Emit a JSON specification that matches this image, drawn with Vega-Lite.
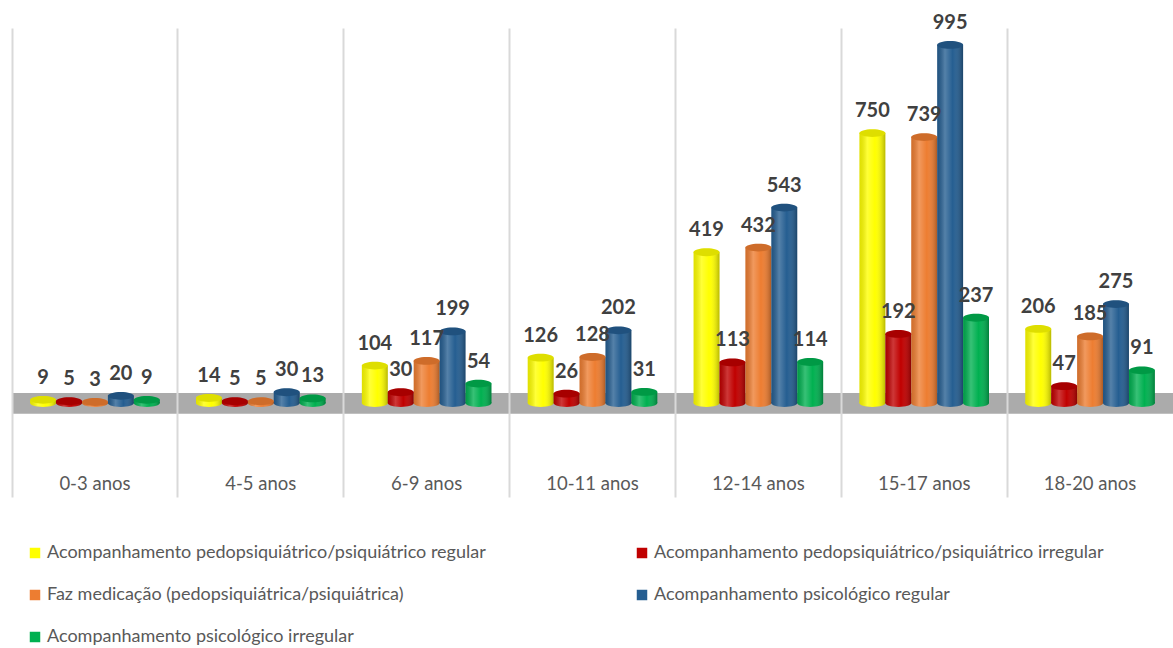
{
  "$schema": "https://vega.github.io/schema/vega-lite/v6.json",
  "width": 1161,
  "height": 469,
  "autosize": {"type": "none"},
  "padding": {"left": 12, "top": 28, "right": 0, "bottom": 151},
  "background": "white",
  "config": {"view": {"stroke": null}, "font": "Lato"},
  "data": {"values": [
    {"faixa": "0-3 anos", "serie": "Acompanhamento pedopsiquiátrico/psiquiátrico regular", "valor": 9},
    {"faixa": "0-3 anos", "serie": "Acompanhamento pedopsiquiátrico/psiquiátrico irregular", "valor": 5},
    {"faixa": "0-3 anos", "serie": "Faz medicação (pedopsiquiátrica/psiquiátrica)", "valor": 3},
    {"faixa": "0-3 anos", "serie": "Acompanhamento psicológico regular", "valor": 20},
    {"faixa": "0-3 anos", "serie": "Acompanhamento psicológico irregular", "valor": 9},
    {"faixa": "4-5 anos", "serie": "Acompanhamento pedopsiquiátrico/psiquiátrico regular", "valor": 14},
    {"faixa": "4-5 anos", "serie": "Acompanhamento pedopsiquiátrico/psiquiátrico irregular", "valor": 5},
    {"faixa": "4-5 anos", "serie": "Faz medicação (pedopsiquiátrica/psiquiátrica)", "valor": 5},
    {"faixa": "4-5 anos", "serie": "Acompanhamento psicológico regular", "valor": 30},
    {"faixa": "4-5 anos", "serie": "Acompanhamento psicológico irregular", "valor": 13},
    {"faixa": "6-9 anos", "serie": "Acompanhamento pedopsiquiátrico/psiquiátrico regular", "valor": 104},
    {"faixa": "6-9 anos", "serie": "Acompanhamento pedopsiquiátrico/psiquiátrico irregular", "valor": 30},
    {"faixa": "6-9 anos", "serie": "Faz medicação (pedopsiquiátrica/psiquiátrica)", "valor": 117},
    {"faixa": "6-9 anos", "serie": "Acompanhamento psicológico regular", "valor": 199},
    {"faixa": "6-9 anos", "serie": "Acompanhamento psicológico irregular", "valor": 54},
    {"faixa": "10-11 anos", "serie": "Acompanhamento pedopsiquiátrico/psiquiátrico regular", "valor": 126},
    {"faixa": "10-11 anos", "serie": "Acompanhamento pedopsiquiátrico/psiquiátrico irregular", "valor": 26},
    {"faixa": "10-11 anos", "serie": "Faz medicação (pedopsiquiátrica/psiquiátrica)", "valor": 128},
    {"faixa": "10-11 anos", "serie": "Acompanhamento psicológico regular", "valor": 202},
    {"faixa": "10-11 anos", "serie": "Acompanhamento psicológico irregular", "valor": 31},
    {"faixa": "12-14 anos", "serie": "Acompanhamento pedopsiquiátrico/psiquiátrico regular", "valor": 419},
    {"faixa": "12-14 anos", "serie": "Acompanhamento pedopsiquiátrico/psiquiátrico irregular", "valor": 113},
    {"faixa": "12-14 anos", "serie": "Faz medicação (pedopsiquiátrica/psiquiátrica)", "valor": 432},
    {"faixa": "12-14 anos", "serie": "Acompanhamento psicológico regular", "valor": 543},
    {"faixa": "12-14 anos", "serie": "Acompanhamento psicológico irregular", "valor": 114},
    {"faixa": "15-17 anos", "serie": "Acompanhamento pedopsiquiátrico/psiquiátrico regular", "valor": 750},
    {"faixa": "15-17 anos", "serie": "Acompanhamento pedopsiquiátrico/psiquiátrico irregular", "valor": 192},
    {"faixa": "15-17 anos", "serie": "Faz medicação (pedopsiquiátrica/psiquiátrica)", "valor": 739},
    {"faixa": "15-17 anos", "serie": "Acompanhamento psicológico regular", "valor": 995},
    {"faixa": "15-17 anos", "serie": "Acompanhamento psicológico irregular", "valor": 237},
    {"faixa": "18-20 anos", "serie": "Acompanhamento pedopsiquiátrico/psiquiátrico regular", "valor": 206},
    {"faixa": "18-20 anos", "serie": "Acompanhamento pedopsiquiátrico/psiquiátrico irregular", "valor": 47},
    {"faixa": "18-20 anos", "serie": "Faz medicação (pedopsiquiátrica/psiquiátrica)", "valor": 185},
    {"faixa": "18-20 anos", "serie": "Acompanhamento psicológico regular", "valor": 275},
    {"faixa": "18-20 anos", "serie": "Acompanhamento psicológico irregular", "valor": 91}
  ]},
  "encoding": {
    "x": {"field": "faixa", "type": "nominal", "sort": ["0-3 anos", "4-5 anos", "6-9 anos", "10-11 anos", "12-14 anos", "15-17 anos", "18-20 anos"], "scale": {"paddingInner": 0, "paddingOuter": 0},
      "axis": {"title": null, "labels": false, "ticks": false, "domain": false, "grid": true, "bandPosition": 0, "gridColor": "#D9D9D9", "gridWidth": 2, "zindex": 1}}
  },
  "layer": [
    {
      "data": {"values": [{"faixa": "0-3 anos"}, {"faixa": "4-5 anos"}, {"faixa": "6-9 anos"}, {"faixa": "10-11 anos"}, {"faixa": "12-14 anos"}, {"faixa": "15-17 anos"}, {"faixa": "18-20 anos"}]},
      "mark": {"type": "rect", "color": "#ABABAB"},
      "encoding": {
        "y": {"datum": 28, "type": "quantitative", "scale": {"domain": [-261, 1042], "nice": false, "zero": false}, "axis": null},
        "y2": {"datum": -30}
      }
    },
    {
      "data": {"values": [{"faixa": "0-3 anos"}, {"faixa": "4-5 anos"}, {"faixa": "6-9 anos"}, {"faixa": "10-11 anos"}, {"faixa": "12-14 anos"}, {"faixa": "15-17 anos"}, {"faixa": "18-20 anos"}]},
      "mark": {"type": "text", "fontSize": 18.5, "color": "#595959", "baseline": "middle"},
      "encoding": {
        "y": {"datum": -225, "type": "quantitative"},
        "text": {"field": "faixa"}
      }
    },
    {
      "mark": {"type": "point", "filled": true, "opacity": 1, "strokeWidth": 0, "size": 676, "shape": "M-1,0A1,0.3,0,1,0,1,0A1,0.3,0,1,0,-1,0Z"},
      "encoding": {
        "xOffset": {"field": "serie", "type": "nominal", "sort": ["Acompanhamento pedopsiquiátrico/psiquiátrico regular", "Acompanhamento pedopsiquiátrico/psiquiátrico irregular", "Faz medicação (pedopsiquiátrica/psiquiátrica)", "Acompanhamento psicológico regular", "Acompanhamento psicológico irregular"], "scale": {"paddingInner": 0, "paddingOuter": 0.7}},
        "y": {"datum": 0, "type": "quantitative"},
        "color": {"field": "serie", "type": "nominal"}
      }
    },
    {
      "mark": {"type": "point", "filled": true, "opacity": 1, "strokeWidth": 0, "size": 676, "shape": "M-1,0A1,0.3,0,1,0,1,0A1,0.3,0,1,0,-1,0Z",
        "fill": {"gradient": "linear", "x1": 0, "y1": 0, "x2": 1, "y2": 0, "stops": [
          {"offset": 0, "color": "rgba(0,0,0,0.12)"},
          {"offset": 0.3, "color": "rgba(255,255,255,0.22)"},
          {"offset": 0.6, "color": "rgba(255,255,255,0)"},
          {"offset": 1, "color": "rgba(0,0,0,0.28)"}]}},
      "encoding": {
        "xOffset": {"field": "serie", "type": "nominal", "sort": ["Acompanhamento pedopsiquiátrico/psiquiátrico regular", "Acompanhamento pedopsiquiátrico/psiquiátrico irregular", "Faz medicação (pedopsiquiátrica/psiquiátrica)", "Acompanhamento psicológico regular", "Acompanhamento psicológico irregular"]},
        "y": {"datum": 0, "type": "quantitative"}
      }
    },
    {
      "mark": {"type": "bar"},
      "encoding": {
        "xOffset": {"field": "serie", "type": "nominal", "sort": ["Acompanhamento pedopsiquiátrico/psiquiátrico regular", "Acompanhamento pedopsiquiátrico/psiquiátrico irregular", "Faz medicação (pedopsiquiátrica/psiquiátrica)", "Acompanhamento psicológico regular", "Acompanhamento psicológico irregular"]},
        "y": {"field": "valor", "type": "quantitative"},
        "y2": {"datum": 0},
        "color": {"field": "serie", "type": "nominal",
          "scale": {"domain": ["Acompanhamento pedopsiquiátrico/psiquiátrico regular", "Acompanhamento pedopsiquiátrico/psiquiátrico irregular", "Faz medicação (pedopsiquiátrica/psiquiátrica)", "Acompanhamento psicológico regular", "Acompanhamento psicológico irregular"],
                    "range": ["#FFFF00", "#C00000", "#ED7D31", "#255E91", "#00B050"]},
          "legend": {"orient": "none", "legendX": 14, "legendY": 516, "columns": 2, "direction": "horizontal", "title": null, "symbolType": "square", "symbolSize": 110, "symbolStrokeWidth": 0, "symbolOpacity": 1, "labelFontSize": 18, "labelColor": "#595959", "labelLimit": 0, "rowPadding": 24, "columnPadding": 147, "labelOffset": 3}}
      }
    },
    {
      "mark": {"type": "bar",
        "fill": {"gradient": "linear", "x1": 0, "y1": 0, "x2": 1, "y2": 0, "stops": [
          {"offset": 0, "color": "rgba(0,0,0,0.12)"},
          {"offset": 0.3, "color": "rgba(255,255,255,0.22)"},
          {"offset": 0.6, "color": "rgba(255,255,255,0)"},
          {"offset": 1, "color": "rgba(0,0,0,0.28)"}]}},
      "encoding": {
        "xOffset": {"field": "serie", "type": "nominal", "sort": ["Acompanhamento pedopsiquiátrico/psiquiátrico regular", "Acompanhamento pedopsiquiátrico/psiquiátrico irregular", "Faz medicação (pedopsiquiátrica/psiquiátrica)", "Acompanhamento psicológico regular", "Acompanhamento psicológico irregular"]},
        "y": {"field": "valor", "type": "quantitative"},
        "y2": {"datum": 0}
      }
    },
    {
      "mark": {"type": "point", "filled": true, "opacity": 1, "strokeWidth": 0, "size": 676, "shape": "M-1,0A1,0.3,0,1,0,1,0A1,0.3,0,1,0,-1,0Z"},
      "encoding": {
        "xOffset": {"field": "serie", "type": "nominal", "sort": ["Acompanhamento pedopsiquiátrico/psiquiátrico regular", "Acompanhamento pedopsiquiátrico/psiquiátrico irregular", "Faz medicação (pedopsiquiátrica/psiquiátrica)", "Acompanhamento psicológico regular", "Acompanhamento psicológico irregular"]},
        "y": {"field": "valor", "type": "quantitative"},
        "color": {"field": "serie", "type": "nominal"}
      }
    },
    {
      "mark": {"type": "point", "filled": true, "opacity": 1, "strokeWidth": 0, "size": 676, "shape": "M-1,0A1,0.3,0,1,0,1,0A1,0.3,0,1,0,-1,0Z", "fill": "rgba(0,0,0,0.13)"},
      "encoding": {
        "xOffset": {"field": "serie", "type": "nominal", "sort": ["Acompanhamento pedopsiquiátrico/psiquiátrico regular", "Acompanhamento pedopsiquiátrico/psiquiátrico irregular", "Faz medicação (pedopsiquiátrica/psiquiátrica)", "Acompanhamento psicológico regular", "Acompanhamento psicológico irregular"]},
        "y": {"field": "valor", "type": "quantitative"}
      }
    },
    {
      "mark": {"type": "text", "fontSize": 20, "fontWeight": "bold", "color": "#404040", "baseline": "middle", "dy": -22},
      "encoding": {
        "xOffset": {"field": "serie", "type": "nominal", "sort": ["Acompanhamento pedopsiquiátrico/psiquiátrico regular", "Acompanhamento pedopsiquiátrico/psiquiátrico irregular", "Faz medicação (pedopsiquiátrica/psiquiátrica)", "Acompanhamento psicológico regular", "Acompanhamento psicológico irregular"]},
        "y": {"field": "valor", "type": "quantitative"},
        "text": {"field": "valor", "type": "quantitative"}
      }
    }
  ]
}
